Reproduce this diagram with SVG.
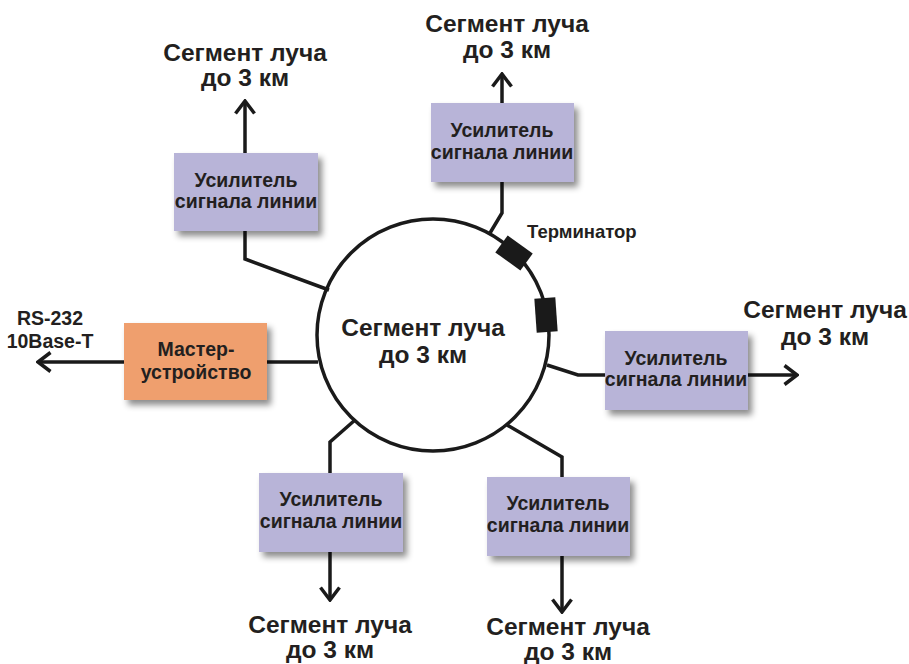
<svg xmlns="http://www.w3.org/2000/svg" width="909" height="664" viewBox="0 0 909 664">
<style>
.box{fill:#b8b4d8;filter:url(#sh)}
.master{fill:#ef9f6e;filter:url(#sh)}
.bt{font-family:"Liberation Sans",Arial,sans-serif;font-weight:bold;font-size:19.5px;fill:#231f20;text-anchor:middle}
.lbl{font-family:"Liberation Sans",Arial,sans-serif;font-weight:bold;font-size:24.5px;fill:#231f20;text-anchor:middle}
.sm{font-family:"Liberation Sans",Arial,sans-serif;font-weight:bold;font-size:18.5px;fill:#231f20}
.ln{fill:none;stroke:#1a1a1a;stroke-width:3.5;stroke-linejoin:miter}
.arr{fill:none;stroke:#1a1a1a;stroke-width:3.5;marker-end:url(#ah)}
</style>
<defs>
<filter id="sh" x="-10%" y="-10%" width="130%" height="140%">
<feDropShadow dx="4" dy="5" stdDeviation="3" flood-color="#000" flood-opacity="0.45"/>
</filter>
<marker id="ah" viewBox="0 0 16 22" refX="14" refY="11" markerWidth="16" markerHeight="22" markerUnits="userSpaceOnUse" orient="auto">
<path d="M1.5,1.5 L14,11 L1.5,20.5" fill="none" stroke="#1a1a1a" stroke-width="3.5"/>
</marker>
</defs>

<g id="connectors">
<path class="ln" d="M245,231 L245,259 L329,290"/>
<path class="arr" d="M245,153 L245,101"/>
<path class="ln" d="M502,182 L502,213 L490,233"/>
<path class="arr" d="M502,103 L502,74"/>
<path class="ln" d="M547,365 L578,375 L605,375"/>
<path class="arr" d="M748,375 L797,375"/>
<path class="ln" d="M267,362 L318,362"/>
<path class="arr" d="M124,362 L38,362"/>
<path class="ln" d="M355,420 L330,442 L330,473"/>
<path class="arr" d="M330,552 L330,600"/>
<path class="ln" d="M507,425 L562,457 L562,477"/>
<path class="arr" d="M562,556 L562,612"/>
</g>

<g id="ring">
<circle cx="433" cy="335" r="116" fill="none" stroke="#1a1a1a" stroke-width="3.5"/>
<text class="lbl" x="423" y="336">Сегмент луча</text>
<text class="lbl" x="423" y="363">до 3 км</text>
</g>

<g id="terminator1">
<rect x="-15.5" y="-10.5" width="31" height="21" fill="#1a1a1a" transform="translate(514,253) rotate(36)"/>
<text class="sm" x="527" y="238">Терминатор</text>
</g>
<g id="terminator2">
<rect x="-10.5" y="-17" width="21" height="34" fill="#1a1a1a" transform="translate(546,315) rotate(-4)"/>
</g>

<g id="amp1">
<rect class="box" x="174" y="153" width="144" height="78"/>
<text class="bt" x="246" y="187">Усилитель</text>
<text class="bt" x="246" y="208">сигнала линии</text>
</g>
<g id="amp2">
<rect class="box" x="431" y="103" width="143" height="79"/>
<text class="bt" x="502" y="137">Усилитель</text>
<text class="bt" x="502" y="159">сигнала линии</text>
</g>
<g id="amp3">
<rect class="box" x="605" y="331" width="143" height="79"/>
<text class="bt" x="676" y="365">Усилитель</text>
<text class="bt" x="676" y="386">сигнала линии</text>
</g>
<g id="amp4">
<rect class="box" x="259" y="473" width="144" height="79"/>
<text class="bt" x="331" y="506">Усилитель</text>
<text class="bt" x="331" y="528">сигнала линии</text>
</g>
<g id="amp5">
<rect class="box" x="487" y="477" width="143" height="79"/>
<text class="bt" x="558" y="510">Усилитель</text>
<text class="bt" x="558" y="532">сигнала линии</text>
</g>
<g id="master">
<rect class="master" x="124" y="323" width="143" height="77"/>
<text class="bt" x="196" y="356">Мастер-</text>
<text class="bt" x="196" y="379">устройство</text>
</g>

<g id="labels">
<text class="lbl" x="245" y="61">Сегмент луча</text>
<text class="lbl" x="245" y="86">до 3 км</text>
<text class="lbl" x="507" y="32">Сегмент луча</text>
<text class="lbl" x="507" y="58">до 3 км</text>
<text class="lbl" x="825" y="318">Сегмент луча</text>
<text class="lbl" x="825" y="345">до 3 км</text>
<text class="lbl" x="330" y="633">Сегмент луча</text>
<text class="lbl" x="330" y="658">до 3 км</text>
<text class="lbl" x="568" y="635">Сегмент луча</text>
<text class="lbl" x="568" y="660">до 3 км</text>
<text class="sm" x="50" y="325" text-anchor="middle" style="font-size:19.5px">RS-232</text>
<text class="sm" x="50" y="348" text-anchor="middle" style="font-size:19.5px">10Base-T</text>
</g>
</svg>
